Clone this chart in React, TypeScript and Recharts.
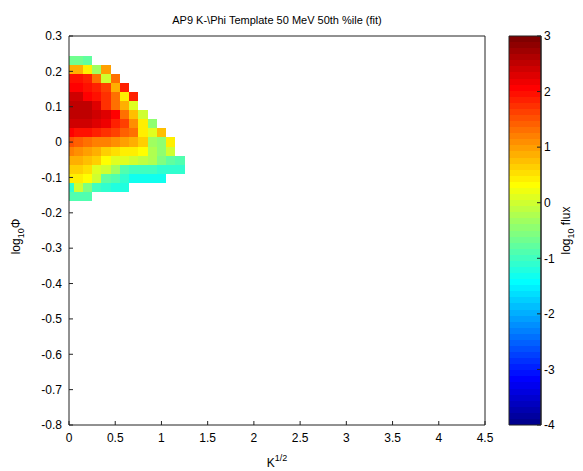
import React from "react"
import { ComposedChart, ReferenceArea, XAxis, YAxis } from "recharts"

// K^(1/2) centres of the grid columns
const kCenters = [0, 0.1, 0.2, 0.3, 0.4, 0.5, 0.6, 0.7, 0.8, 0.9, 1.0, 1.1, 1.2]
// log10(Phi) centres of the grid rows, top to bottom
const phiCenters = [0.23, 0.205, 0.179, 0.154, 0.128, 0.102, 0.077, 0.051, 0.026, 0, -0.026, -0.051, -0.077, -0.102, -0.128, -0.154]

// log10 flux per row (same order as phiCenters), starting at K^(1/2) = 0
const fluxRows = [
  [-0.7, -0.7, -0.75],
  [0.9, 0.9, 0.4, -0.3, 1.0],
  [2.0, 2.0, 1.8, 1.35, -0.05, 1.25],
  [2.1, 2.1, 2.0, 1.8, 1.6, 0.9, 1.8],
  [2.45, 2.45, 2.1, 2.0, 1.7, 1.25, 0.4, 1.9],
  [2.55, 2.55, 2.5, 2.3, 1.7, 1.35, 0.85, 0.05],
  [2.55, 2.55, 2.5, 2.4, 2.3, 2.1, 1.35, 0.8, -0.05],
  [2.45, 2.45, 2.4, 2.3, 2.15, 1.9, 1.6, 1.05, 0.4, -0.5],
  [2.1, 2.0, 1.95, 1.85, 1.75, 1.6, 1.45, 1.3, 0.45, 0.05, 0.75],
  [1.5, 1.4, 1.3, 1.2, 1.15, 1.05, 0.95, 0.85, 0.7, -0.3, -0.5, 0.4],
  [1.15, 1.05, 0.95, 0.85, 0.7, 0.55, 0.45, 0.4, 0.3, -0.2, -0.5, -0.05],
  [0.9, 0.9, 0.8, 0.6, 0.3, 0.15, 0.05, -0.05, -0.1, -0.2, -0.6, -0.75, -0.85],
  [0.7, 0.7, 0.5, 0.15, -0.05, -0.3, -0.9, -0.95, -0.95, -0.95, -1.05, -1.05, -1.05],
  [0.4, 0.4, 0.35, -0.05, -0.8, -0.85, -1.15, -1.3, -1.35, -1.35, -1.35],
  [-1.1, -0.05, -0.6, -0.95, -1.15, -1.2, -1.2],
  [-0.9, -0.9, -0.9],
]

const xTicks = [0, 0.5, 1, 1.5, 2, 2.5, 3, 3.5, 4, 4.5]
const yTicks = [0.3, 0.2, 0.1, 0, -0.1, -0.2, -0.3, -0.4, -0.5, -0.6, -0.7, -0.8]
const cbarTicks = [3, 2, 1, 0, -1, -2, -3, -4]

const X_DOMAIN: [number, number] = [0, 4.5]
const Y_DOMAIN: [number, number] = [-0.8, 0.3]
const C_MIN = -4
const C_MAX = 3
// hidden axis that puts the colour bar (0..1) to the right of the plot box
const CBAR_X_DOMAIN: [number, number] = [-13.75, -0.75]
const FONT = "'Liberation Sans', Arial, sans-serif"
const AXIS = "#222"

// matlab jet(64)
const jetU = (j: number) => (j < 1 || j > 47 ? 0 : j <= 16 ? j / 16 : j <= 31 ? 1 : (48 - j) / 16)
const hex = (x: number) => Math.round(x * 255).toString(16).padStart(2, "0")
const jetColor = (i: number) => `#${hex(jetU(i - 24))}${hex(jetU(i - 8))}${hex(jetU(i + 8))}`
const fluxColor = (v: number) => {
  const i = Math.min(64, Math.max(1, Math.floor(((v - C_MIN) / (C_MAX - C_MIN)) * 64) + 1))
  return jetColor(i)
}

const edges = (centers: number[], i: number) => {
  const lo = i > 0 ? (centers[i - 1] + centers[i]) / 2 : centers[0] - (centers[1] - centers[0]) / 2
  const n = centers.length
  const hi = i < n - 1 ? (centers[i] + centers[i + 1]) / 2 : centers[n - 1] + (centers[n - 1] - centers[n - 2]) / 2
  return [Math.min(lo, hi), Math.max(lo, hi)]
}

const cells = fluxRows.flatMap((row, r) =>
  row.map((v, c) => {
    const [x1, x2] = edges(kCenters, c)
    const [y1, y2] = edges(phiCenters, r)
    return { k: kCenters[c], phi: phiCenters[r], flux: v, x1: Math.max(X_DOMAIN[0], x1), x2, y1, y2 }
  })
)

const bands = Array.from({ length: 64 }, (_, i) => ({
  lo: C_MIN + ((C_MAX - C_MIN) * i) / 64,
  hi: C_MIN + ((C_MAX - C_MIN) * (i + 1)) / 64,
  color: jetColor(i + 1),
}))

const fmt = (v: number) => String(v)

const TitleLabel = (props: any) => {
  const vb = props.viewBox
  return (
    <text x={vb.x + vb.width / 2} y={24} textAnchor="middle" fontSize={11} fill="#000" fontFamily={FONT}>
      {"AP9 K-\\Phi Template 50 MeV 50th %ile (fit)"}
    </text>
  )
}

const XLabel = (props: any) => {
  const vb = props.viewBox
  return (
    <text x={vb.x + vb.width / 2} y={467} textAnchor="middle" fontSize={12} fill="#000" fontFamily={FONT}>
      K<tspan dy={-6} fontSize={9}>1/2</tspan>
    </text>
  )
}

const YLabel = (props: any) => {
  const vb = props.viewBox
  const cy = vb.y + vb.height / 2 + 6
  return (
    <text x={20} y={cy} transform={`rotate(-90 20 ${cy})`} textAnchor="middle" fontSize={12} fill="#000" fontFamily={FONT}>
      log<tspan dy={4} fontSize={9}>10</tspan>
      <tspan dy={-4}>Φ</tspan>
    </text>
  )
}

const CbarLabel = (props: any) => {
  const vb = props.viewBox
  const cy = vb.y + vb.height / 2
  const x = vb.x + 29
  return (
    <text x={x} y={cy} transform={`rotate(-90 ${x} ${cy})`} textAnchor="middle" fontSize={12} fill="#000" fontFamily={FONT}>
      log<tspan dy={4} fontSize={9}>10</tspan>
      <tspan dy={-4}> flux</tspan>
    </text>
  )
}

const tickStyle = { fill: "#000", fontSize: 12, fontFamily: FONT }

export default function App() {
  return (
    <div style={{ position: "absolute", left: 0, top: 0, width: 583, height: 471, background: "#fff", fontFamily: FONT }}>
      <ComposedChart width={583} height={471} data={cells} margin={{ top: 35, right: 0, bottom: 16, left: 0 }}>
        <XAxis
          xAxisId="b"
          type="number"
          dataKey="k"
          domain={X_DOMAIN}
          ticks={xTicks}
          tickFormatter={fmt}
          interval={0}
          allowDataOverflow
          height={30}
          stroke={AXIS}
          tickSize={-4}
          tickMargin={12}
          tick={tickStyle}
          label={<XLabel />}
        />
        <XAxis
          xAxisId="t"
          orientation="top"
          type="number"
          dataKey="k"
          domain={X_DOMAIN}
          ticks={xTicks}
          interval={0}
          allowDataOverflow
          height={1}
          stroke={AXIS}
          tickSize={-4}
          tick={false}
          label={<TitleLabel />}
        />
        <XAxis xAxisId="cx" type="number" dataKey="k" domain={CBAR_X_DOMAIN} allowDataOverflow hide />
        <YAxis
          yAxisId="l"
          type="number"
          dataKey="phi"
          domain={Y_DOMAIN}
          ticks={yTicks}
          tickFormatter={fmt}
          interval={0}
          allowDataOverflow
          width={69}
          stroke={AXIS}
          tickSize={-4}
          tickMargin={11}
          tick={tickStyle}
          label={<YLabel />}
        />
        <YAxis
          yAxisId="cb"
          orientation="right"
          type="number"
          dataKey="phi"
          domain={[C_MIN, C_MAX]}
          ticks={cbarTicks}
          tickFormatter={fmt}
          interval={0}
          allowDataOverflow
          width={42}
          stroke={AXIS}
          tickSize={-4}
          tickMargin={7}
          tick={tickStyle}
          label={<CbarLabel />}
        />
        <YAxis
          yAxisId="ar"
          orientation="right"
          type="number"
          dataKey="phi"
          domain={Y_DOMAIN}
          ticks={yTicks}
          interval={0}
          allowDataOverflow
          width={56}
          stroke={AXIS}
          tickSize={-4}
          tick={false}
        />
        {cells.map((c, i) => (
          <ReferenceArea
            key={`c${i}`}
            xAxisId="b"
            yAxisId="l"
            x1={c.x1}
            x2={c.x2}
            y1={c.y1}
            y2={c.y2}
            fill={fluxColor(c.flux)}
            fillOpacity={1}
            stroke="none"
            shapeRendering="crispEdges"
            ifOverflow="visible"
          />
        ))}
        {bands.map((b, i) => (
          <ReferenceArea
            key={`b${i}`}
            xAxisId="cx"
            yAxisId="cb"
            x1={0}
            x2={1}
            y1={b.lo}
            y2={b.hi}
            fill={b.color}
            fillOpacity={1}
            stroke="none"
            shapeRendering="crispEdges"
            ifOverflow="visible"
          />
        ))}
        <ReferenceArea
          xAxisId="cx"
          yAxisId="cb"
          x1={0}
          x2={1}
          y1={C_MIN}
          y2={C_MAX}
          fill="none"
          stroke={AXIS}
          strokeWidth={1}
          ifOverflow="visible"
        />
      </ComposedChart>
    </div>
  )
}
